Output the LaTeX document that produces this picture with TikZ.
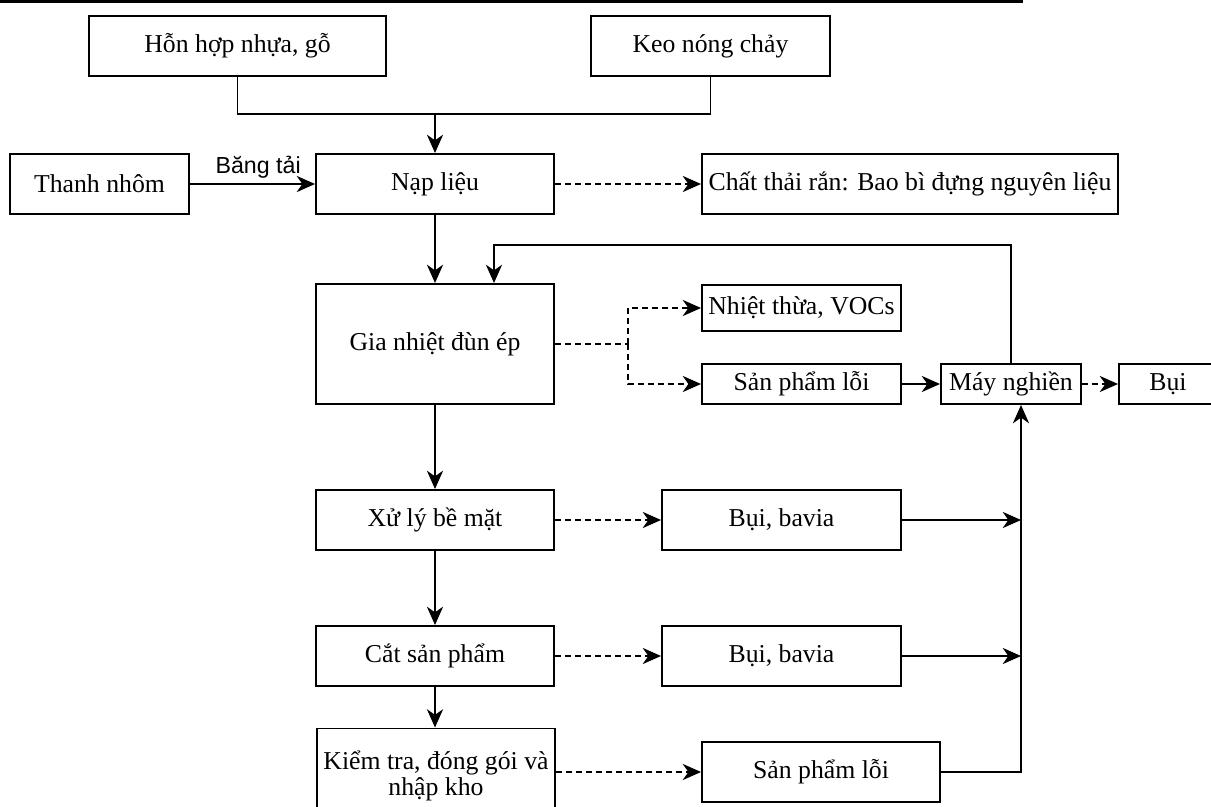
\documentclass[tikz,border=0pt]{standalone}
\usepackage{fontspec}
\setmainfont{Liberation Serif}
\newfontfamily\arialfont{Liberation Sans}
\usetikzlibrary{arrows.meta}

\begin{document}
\begin{tikzpicture}[
    x=0.025cm, y=-0.025cm,
    box/.style={rectangle, draw, line width=1.4pt, inner sep=0pt, align=center, font=\fontsize{18.3}{18.8}\selectfont},
    sz/.style 2 args={minimum width=#1*0.025cm, minimum height=#2*0.025cm},
    link/.style={line width=1.4pt},
    arr/.style={link, -{Stealth[length=13pt, width=11.5pt, inset=4pt]}},
    darr/.style={arr, dash pattern=on 4.3pt off 2.8pt},
    dlink/.style={link, dash pattern=on 4.3pt off 2.8pt},
    lbl/.style={font=\arialfont\fontsize{16.5}{18}\selectfont, inner sep=3pt}
]
\useasboundingbox (0,0) rectangle (1211,807);
\clip (0,0) rectangle (1211,807);

% top rule
\fill (0,0) rectangle (1023,3);

% Nodes
\node[box, sz={297}{60}] (mix) at (237.5,46) {Hỗn hợp nhựa, gỗ};
\node[box, sz={239}{60}] (glue) at (710.5,46) {Keo nóng chảy};
\node[box, sz={179}{60}] (alu) at (99.5,184) {Thanh nhôm};
\node[box, sz={238}{60}] (feed) at (435,184) {Nạp liệu};
\node[box, sz={416}{60}] (waste) at (910,184) {Chất thải rắn: Bao bì đựng nguyên liệu};
\node[box, sz={238}{120}] (heat) at (435,344) {Gia nhiệt đùn ép};
\node[box, sz={199}{46}] (voc) at (801.5,308) {Nhiệt thừa, VOCs};
\node[box, sz={199}{40}] (def1) at (801.5,384) {Sản phẩm lỗi};
\node[box, sz={140}{40}] (mill) at (1011,384) {Máy nghiền};
\node[box, sz={98}{40}] (dust) at (1168,384) {Bụi};
\node[box, sz={238}{60}] (surf) at (435,520) {Xử lý bề mặt};
\node[box, sz={239}{60}] (burr1) at (781.5,520) {Bụi, bavia};
\node[box, sz={238}{60}] (cut) at (435,656) {Cắt sản phẩm};
\node[box, sz={239}{60}] (burr2) at (781.5,656) {Bụi, bavia};
\node[box, sz={238}{95}] (check) at (436,776) {Kiểm tra, đóng gói và\\nhập kho};
\node[box, sz={238}{60}] (def2) at (821,772) {Sản phẩm lỗi};

\coordinate (join) at (435,114);
\coordinate (ret) at (494,245);
\coordinate (fork) at (628,344);
\coordinate (bus) at (1021,772);

% Edges
\draw[link] (mix.south) |- (join) -| (glue.south);
\draw[arr] (join) -- (feed.north);
\draw[arr] (alu) -- node[lbl, above, xshift=4pt] {Băng tải} (feed);
\draw[darr] (feed) -- (waste);
\draw[arr] (feed) -- (heat);
\draw[dlink] (heat.east) -- (fork);
\draw[darr] (fork) |- (voc.west);
\draw[darr] (fork) |- (def1.west);
\draw[arr] (def1) -- (mill);
\draw[darr] (mill) -- (dust);
\draw[arr] (mill.north) |- (ret) -- (ret |- heat.north);
\draw[arr] (heat) -- (surf);
\draw[darr] (surf) -- (burr1);
\draw[arr] (burr1.east) -- (burr1.east -| bus);
\draw[arr] (surf) -- (cut);
\draw[darr] (cut) -- (burr2);
\draw[arr] (burr2.east) -- (burr2.east -| bus);
\draw[arr] (cut.south) -- (cut.south |- check.north);
\draw[darr] (check.east |- def2.west) -- (def2.west);
\draw[arr] (def2.east) -- (bus) -- (bus |- mill.south);

\end{tikzpicture}
\end{document}
